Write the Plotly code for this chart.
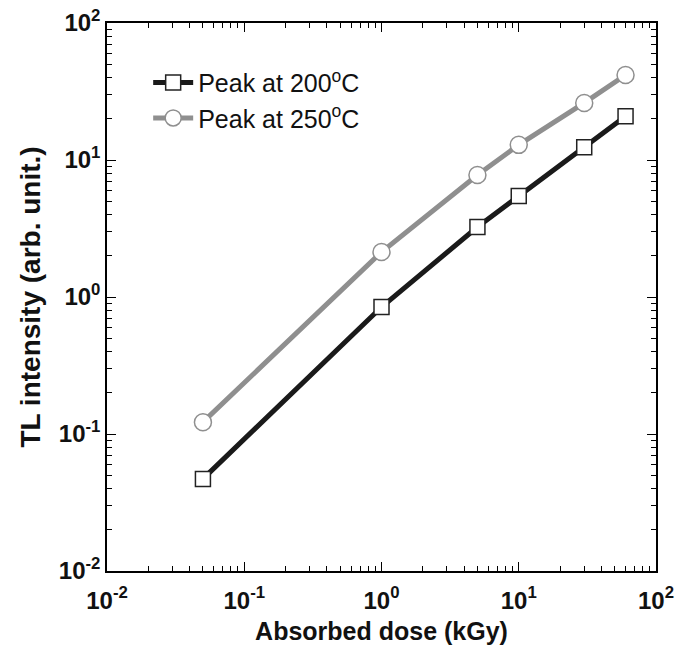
import plotly.graph_objects as go

dose = [0.05, 1, 5, 10, 30, 60]
peak200 = [0.047, 0.845, 3.24, 5.46, 12.4, 20.9]
peak250 = [0.122, 2.13, 7.77, 12.9, 26.1, 41.7]
names = ["Peak at 200<sup>o</sup>C", "Peak at 250<sup>o</sup>C"]
tick_vals = [0.01, 0.1, 1, 10, 100]
tick_text = ["<b>10<sup>-2</sup></b>", "<b>10<sup>-1</sup></b>", "<b>10<sup>0</sup></b>",
             "<b>10<sup>1</sup></b>", "<b>10<sup>2</sup></b>"]

minor_vals = [m * 10 ** e for e in range(-2, 2) for m in range(2, 10)]

fig = go.Figure()
fig.add_trace(go.Scatter(
    x=dose, y=peak200, name=names[0], mode="lines+markers",
    line=dict(color="#1a1a1a", width=5),
    marker=dict(symbol="square", size=15, color="white", line=dict(color="#222222", width=1.5)),
))
fig.add_trace(go.Scatter(
    x=dose, y=peak250, name=names[1], mode="lines+markers",
    line=dict(color="#8f8f8f", width=5),
    marker=dict(symbol="circle", size=17, color="white", line=dict(color="#8f8f8f", width=1.5)),
))

axis_common = dict(
    type="log", showgrid=False, zeroline=False, automargin=False,
    showline=True, linecolor="black", linewidth=1.5, mirror="allticks",
    ticks="inside", ticklen=9, tickwidth=1, tickcolor="black",
    tickvals=tick_vals, ticktext=tick_text,
    tickfont=dict(family="Liberation Sans, Arial", size=24, color="#111111"),
    minor=dict(ticks="inside", ticklen=5, tickwidth=1, tickcolor="black", tickvals=minor_vals, showgrid=False),
)

fig.update_xaxes(range=[-2, 2], **axis_common, ticklabelstandoff=7,
                 title=dict(text="<b>Absorbed dose (kGy)</b>", font=dict(family="Liberation Sans, Arial", size=25, color="#111111"), standoff=10))
fig.update_yaxes(range=[-2, 2], **axis_common,
                 title=dict(text="<b>TL intensity (arb. unit.)</b>", font=dict(family="Liberation Sans, Arial", size=28, color="#111111"), standoff=10))

fig.update_layout(
    width=691, height=653,
    margin=dict(l=107, r=35, t=23, b=82),
    plot_bgcolor="white", paper_bgcolor="white",
    font=dict(family="Liberation Sans, Arial", color="#111111"),
    legend=dict(x=0.075, y=0.933, xanchor="left", yanchor="top",
                bgcolor="rgba(0,0,0,0)", font=dict(size=25, family="Liberation Sans, Arial"),
                tracegroupgap=0, itemwidth=40),
    showlegend=True,
)

fig.write_html("out.html", config={"displayModeBar": False},
               post_script="document.body.style.margin='0';")
